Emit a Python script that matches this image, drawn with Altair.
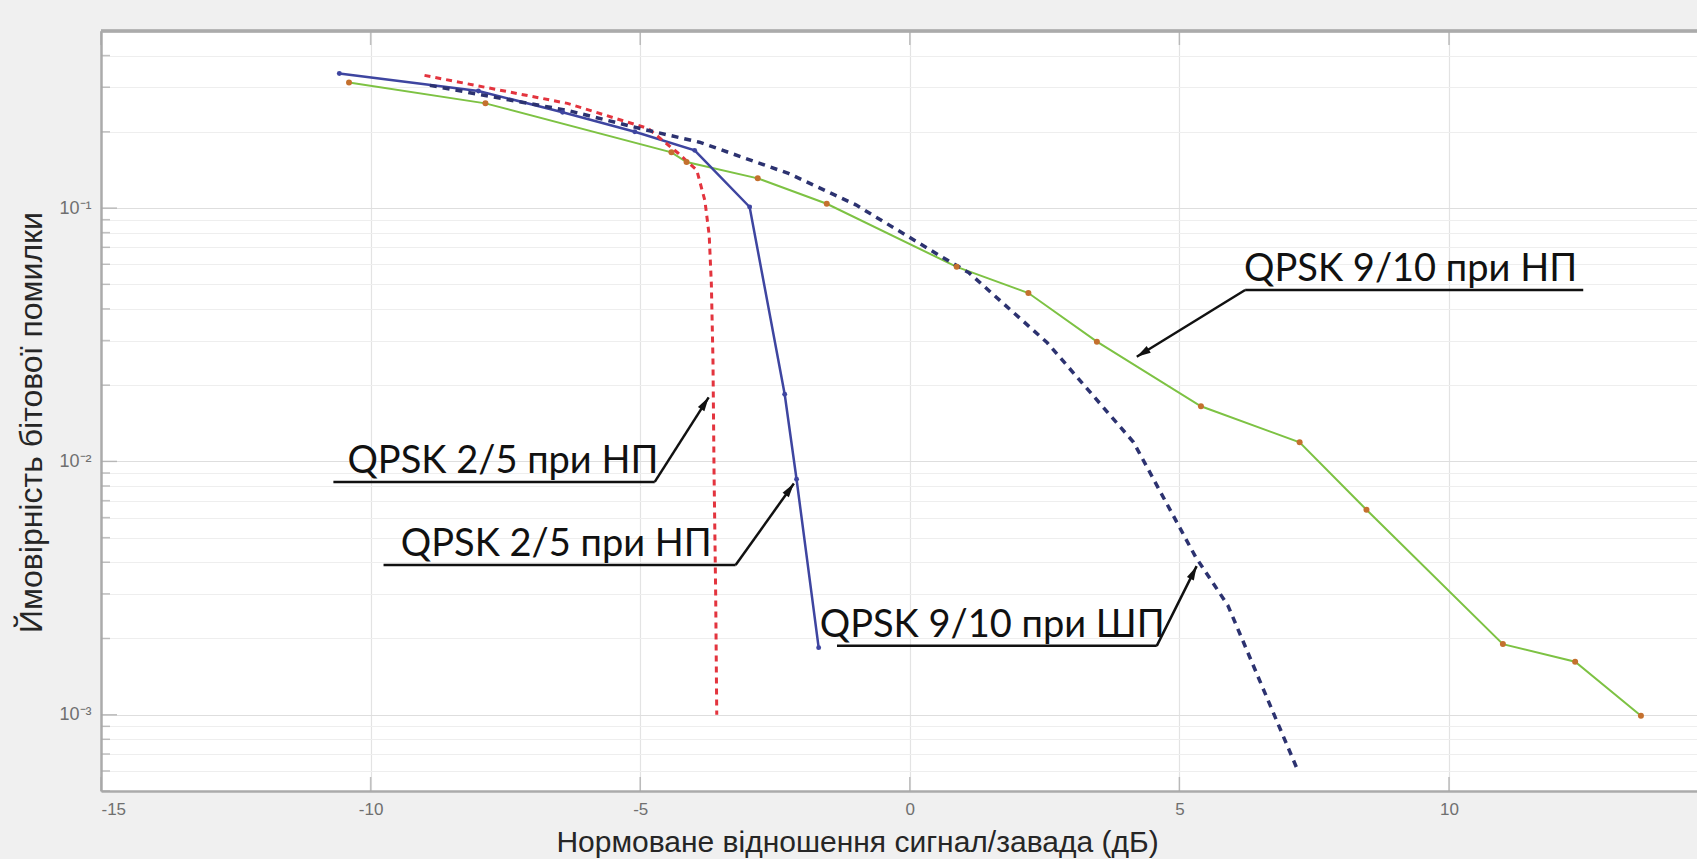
import math
import altair as alt
import pandas as pd

# ---------------- data ----------------
green_x = [-10.4, -7.87, -4.42, -4.14, -2.82, -1.54, 0.87, 2.2, 3.47, 5.4, 7.23, 8.47, 11.0, 12.34, 13.56]
green_y = [0.313, 0.259, 0.166, 0.152, 0.131, 0.104, 0.0586, 0.0462, 0.0297, 0.0165, 0.0119, 0.00644, 0.0019, 0.00162, 0.00099]

blue_solid_x = [-10.58, -8.0, -6.44, -5.1, -3.99, -2.97, -2.32, -2.1, -1.69]
blue_solid_y = [0.34, 0.29, 0.239, 0.2, 0.169, 0.101, 0.0184, 0.0085, 0.00184]

red_x = [-9.0, -7.6, -6.35, -4.85, -4.3, -3.95, -3.8, -3.72, -3.68, -3.65, -3.63, -3.6, -3.58]
red_y = [0.334, 0.292, 0.259, 0.206, 0.165, 0.141, 0.107, 0.078, 0.05, 0.025, 0.009, 0.003, 0.001]

blue_dash_x = [-8.9, -7.5, -6.35, -5.0, -3.9, -2.25, -1.0, 0.6, 1.1, 2.55, 4.15, 5.3, 5.9, 6.6, 7.2]
blue_dash_y = [0.305, 0.269, 0.243, 0.206, 0.182, 0.137, 0.103, 0.064, 0.0555, 0.0294, 0.0119, 0.0042, 0.0027, 0.0012, 0.0006]

ann_text = ["QPSK 2/5 при НП", "QPSK 2/5 при НП", "QPSK 9/10 при ШП", "QPSK 9/10 при НП"]
ann_text_x = [-10.43, -9.44, -1.67, 6.2]
ann_line_y = [0.0083, 0.0039, 0.00187, 0.0475]
ann_line_x1 = [-10.69, -9.76, -1.35, 6.22]
ann_line_x2 = [-4.73, -3.23, 4.58, 12.49]
ann_tail_x = [-4.73, -3.23, 4.58, 6.22]
ann_tip_x = [-3.73, -2.15, 5.32, 4.21]
ann_tip_y = [0.0179, 0.00818, 0.00386, 0.0259]

x_ticks = [-15, -10, -5, 0, 5, 10]
y_major = [0.001, 0.01, 0.1]
y_minor = [m * 10.0 ** e for e in (-4, -3, -2, -1) for m in range(2, 10)]
y_minor = [v for v in y_minor if 0.0005 <= v <= 0.5]

x_title = "Нормоване відношення сигнал/завада (дБ)"
y_title = "Ймовірність бітової помилки"

# ---------------- layout ----------------
W, H = 1596, 760
X_MIN, X_MAX = -15, 14.6
Y_MIN, Y_MAX = 0.0005, 0.5


def px(x):
    return (x - X_MIN) / (X_MAX - X_MIN) * W


def py(y):
    return (math.log10(Y_MAX) - math.log10(y)) / (math.log10(Y_MAX) - math.log10(Y_MIN)) * H


xs = alt.Scale(domain=[X_MIN, X_MAX], nice=False, zero=False)
ys = alt.Scale(type="log", domain=[Y_MIN, Y_MAX], nice=False)

x_axis = alt.Axis(
    values=x_ticks, labelExpr="'' + datum.value", title=x_title,
    grid=True, gridColor="#e3e3e3", gridWidth=1.2,
    ticks=False, domainColor="#ababab", domainWidth=2.5,
    labelFont="Liberation Sans", labelFontSize=17, labelColor="#6f6f6f", labelPadding=10,
    titleFont="Liberation Sans", titleFontSize=30, titleFontWeight="normal", titleColor="#262626",
    titleX=756, titleY=51, titleBaseline="middle", titleAlign="center",
)
y_axis = alt.Axis(
    values=y_major + y_minor,
    labelExpr="datum.value == 0.001 ? '10⁻³' : datum.value == 0.01 ? '10⁻²' : datum.value == 0.1 ? '10⁻¹' : ''",
    title=y_title,
    grid=True,
    gridColor={"condition": {"test": "abs(log(datum.value)/LN10 - round(log(datum.value)/LN10)) < 0.000001",
                             "value": "#dedede"}, "value": "#eeeeee"},
    gridWidth=1.2,
    ticks=False, domainColor="#ababab", domainWidth=2.5,
    labelFont="Liberation Sans", labelFontSize=18, labelColor="#6f6f6f", labelPadding=10,
    titleFont="Liberation Sans", titleFontSize=32, titleFontWeight="normal", titleColor="#262626",
    titleX=-70, titleY=391, titleBaseline="middle", titleAlign="center", titleAngle=270,
)

df_green = pd.DataFrame({"x": green_x, "y": green_y, "i": range(len(green_x))})
df_bs = pd.DataFrame({"x": blue_solid_x, "y": blue_solid_y, "i": range(len(blue_solid_x))})
df_red = pd.DataFrame({"x": red_x, "y": red_y, "i": range(len(red_x))})
df_bd = pd.DataFrame({"x": blue_dash_x, "y": blue_dash_y, "i": range(len(blue_dash_x))})

angles = []
for tx, ty, hx, hy in zip(ann_tail_x, ann_line_y, ann_tip_x, ann_tip_y):
    dx = px(hx) - px(tx)
    dy = py(hy) - py(ty)
    angles.append(math.degrees(math.atan2(dx, -dy)) % 360)

df_ann = pd.DataFrame({
    "label": ann_text, "tx": ann_text_x, "y": ann_line_y,
    "x": ann_line_x1, "x2": ann_line_x2,
    "ax": ann_tail_x, "hx": ann_tip_x, "hy": ann_tip_y, "ang": angles,
})
df_xt = pd.DataFrame({"x": x_ticks})
df_ymaj = pd.DataFrame({"y": y_major})
df_ymin = pd.DataFrame({"y": y_minor})


def X(f="x"):
    return alt.X(f"{f}:Q", scale=xs, axis=x_axis, title=x_title)


def Y(f="y"):
    return alt.Y(f"{f}:Q", scale=ys, axis=y_axis, title=y_title)


green_line = alt.Chart(df_green).mark_line(color="#7dc243", strokeWidth=2).encode(
    x=X(), y=Y(), order="i:Q")
green_pts = alt.Chart(df_green).mark_point(filled=True, color="#c4702e", size=36, shape="circle", opacity=1).encode(
    x=X(), y=Y())

blue_solid = alt.Chart(df_bs).mark_line(color="#3e45a0", strokeWidth=2.5).encode(x=X(), y=Y(), order="i:Q")
blue_pts = alt.Chart(df_bs).mark_point(filled=True, color="#3e45a0", size=24, opacity=1).encode(x=X(), y=Y())

red_line = alt.Chart(df_red).mark_line(color="#e3343e", strokeWidth=3, strokeDash=[6, 5]).encode(
    x=X(), y=Y(), order="i:Q")
blue_dash = alt.Chart(df_bd).mark_line(color="#2c3270", strokeWidth=3.5, strokeDash=[7, 6]).encode(
    x=X(), y=Y(), order="i:Q")

# inner ticks (MATLAB style)
tick_col = "#a6a6a6"
xt_bottom = alt.Chart(df_xt).mark_tick(orient="vertical", color=tick_col, thickness=1.5, size=14).encode(
    x=X(), y=alt.value(H - 7))
xt_top = alt.Chart(df_xt).mark_tick(orient="vertical", color=tick_col, thickness=1.5, size=14).encode(
    x=X(), y=alt.value(7))
yt_major = alt.Chart(df_ymaj).mark_tick(orient="horizontal", color=tick_col, thickness=1.5, size=16).encode(
    y=Y(), x=alt.value(8))
yt_minor = alt.Chart(df_ymin).mark_tick(orient="horizontal", color=tick_col, thickness=1.5, size=9).encode(
    y=Y(), x=alt.value(4.5))
top_frame = alt.Chart(df_xt).mark_rule(color="#ababab", strokeWidth=2.5).encode(
    x=alt.value(0), x2=alt.value(W), y=alt.value(0))

# annotations
ann_under = alt.Chart(df_ann).mark_rule(color="#111111", strokeWidth=2.5).encode(
    x=X(), x2="x2:Q", y=Y())
ann_arrow = alt.Chart(df_ann).mark_rule(color="#111111", strokeWidth=2.5).encode(
    x=X("ax"), y=Y(), x2="hx:Q", y2="hy:Q")
ann_head = alt.Chart(df_ann).mark_point(
    shape="M0,0 L0.55,2 L-0.55,2 Z", filled=True, color="#111111", size=196, opacity=1
).encode(x=X("hx"), y=Y("hy"), angle=alt.Angle("ang:Q", scale=None))
ann_label = alt.Chart(df_ann).mark_text(
    align="left", baseline="alphabetic", dy=-9, font="Lato", fontSize=38, color="#111111"
).encode(x=X("tx"), y=Y(), text="label:N")

chart = alt.layer(
    green_line, blue_solid, red_line, blue_dash, green_pts, blue_pts,
    xt_bottom, xt_top, yt_major, yt_minor, top_frame,
    ann_under, ann_arrow, ann_head, ann_label,
).properties(
    width=W, height=H,
    autosize=alt.AutoSizeParams(type="none"),
    padding={"left": 101, "top": 31, "right": 0, "bottom": 68},
    background="#f0f0f0",
).configure_view(stroke=None, fill="white")

chart.save("out.html", embed_options={"renderer": "svg", "actions": False})
